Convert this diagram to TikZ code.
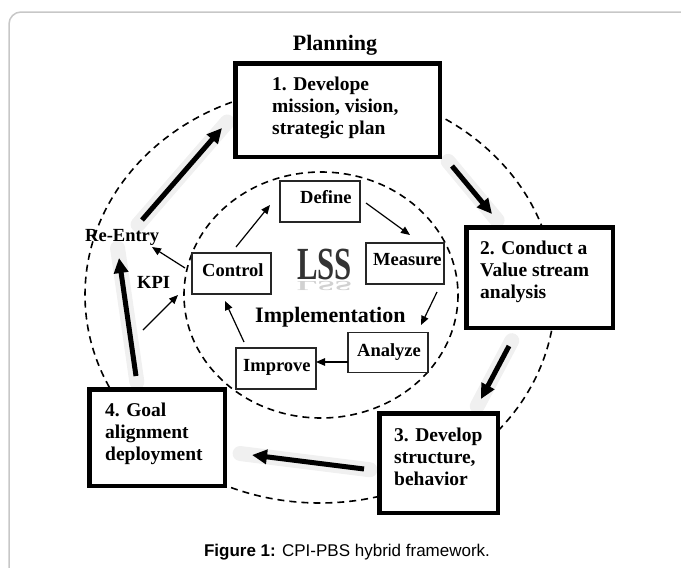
\documentclass[tikz,border=0pt]{standalone}
\usepackage{fontspec}
\setmainfont{Liberation Serif}
\newfontfamily\capfont{Liberation Sans}
\usetikzlibrary{arrows.meta,calc}
\tikzset{
  bigbox/.style={draw=black, line width=4.5pt, fill=white, inner sep=0pt},
  smallbox/.style={draw=black!85, line width=1.3pt, fill=white, inner sep=0pt},
  bigtxt/.style={font=\bfseries\fontsize{19.5}{22}\selectfont, align=left, inner sep=0pt, anchor=north west},
  smalltxt/.style={font=\bfseries\fontsize{18.5}{22}\selectfont, inner sep=0pt, anchor=base west},
  thinarrow/.style={line width=1.2pt, -{Triangle[length=9pt,width=7.5pt]}},
  bigarrow/.style={line width=5pt, -{Triangle[length=15pt,width=14pt]}},
  glow/.style={line width=15pt, draw=black!6, line cap=round},
  dashring/.style={line width=1.6pt, dash pattern=on 7pt off 5pt},
}
\begin{document}
\begin{tikzpicture}[x=1pt,y=-1pt]
\useasboundingbox (0,0) rectangle (681,568);
% frame
\draw[draw=black!22, line width=1.5pt, rounded corners=12pt] (9,575) -- (9,12) -- (690,12);
% rings
\draw[dashring] (320,295) ellipse [x radius=235, y radius=208];
\draw[dashring] (321,295) ellipse [x radius=137, y radius=123];
% arrow end points
\coordinate (a1s) at (142,220); \coordinate (a1e) at (222,128);
\coordinate (a2s) at (452,166); \coordinate (a2e) at (492,214);
\coordinate (a3s) at (509,346); \coordinate (a3e) at (481,399);
\coordinate (a4s) at (364,469); \coordinate (a4e) at (252,455);
\coordinate (a5s) at (136,376); \coordinate (a5e) at (119,258);
% glows
\draw[glow] ($(a1s)!-6pt!(a1e)$) -- ($(a1e)!-8pt!(a1s)$);
\draw[glow] ($(a2s)!-6pt!(a2e)$) -- ($(a2e)!-8pt!(a2s)$);
\draw[glow] ($(a3s)!-6pt!(a3e)$) -- ($(a3e)!-8pt!(a3s)$);
\draw[glow] ($(a4s)!-6pt!(a4e)$) -- ($(a4e)!-12pt!(a4s)$);
\draw[glow] ($(a5s)!-6pt!(a5e)$) -- ($(a5e)!-10pt!(a5s)$);
% big boxes
\node[bigbox, minimum width=204.5pt, minimum height=93.5pt] (b1) at (337.5,110) {};
\node[bigbox, minimum width=146.5pt, minimum height=100.5pt] (b2) at (539.5,277.5) {};
\node[bigbox, minimum width=118.5pt, minimum height=99.5pt] (b3) at (438.5,463) {};
\node[bigbox, minimum width=135.5pt, minimum height=96.5pt] (b4) at (157,437.5) {};
\node[bigtxt] (t1) at (272,76.7) {1. Develope\\mission, vision,\\strategic plan};
\node[bigtxt] (t2) at (480,240.7) {2. Conduct a\\Value stream\\analysis};
\node[bigtxt] (t3) at (394,427.5) {3. Develop\\structure,\\behavior};
\node[bigtxt] (t4) at (105,403) {4. Goal\\alignment\\deployment};
% small boxes
\node[smallbox, minimum width=80pt, minimum height=41pt] (def) at (320,201.5) {};
\node[smallbox, minimum width=78pt, minimum height=41pt] (mea) at (405,263.5) {};
\node[smallbox, minimum width=79pt, minimum height=41pt] (con) at (231.5,273.5) {};
\node[smallbox, minimum width=80pt, minimum height=40pt] (ana) at (388,352.5) {};
\node[smallbox, minimum width=80pt, minimum height=41pt] (imp) at (276,368.5) {};
\node[smalltxt] (tdef) at (300,203) {Define};
\node[smalltxt] (tmea) at (373,265) {Measure};
\node[smalltxt] (tcon) at (202,276) {Control};
\node[smalltxt] (tana) at (357,356) {Analyze};
\node[smalltxt] (timp) at (243,371) {Improve};
% labels
\node[font=\bfseries\fontsize{22}{24}\selectfont, anchor=base, inner sep=0pt] (plan) at (335,50) {Planning};
\node[font=\bfseries\fontsize{22}{24}\selectfont, anchor=base west, inner sep=0pt] (impl) at (255,322) {Implementation};
\node[smalltxt] (re) at (85,241) {Re-Entry};
\node[smalltxt] (kpi) at (137,288) {KPI};
% LSS logo
\node[font=\bfseries\fontsize{46}{46}\selectfont, text=black!18, xscale=0.67, yscale=-0.3, anchor=base west, inner sep=0pt] (lssr) at (297,281) {LSS};
\node[font=\bfseries\fontsize{46}{46}\selectfont, text=black!80, xscale=0.67, anchor=base west, inner sep=0pt] (lss) at (297,279) {LSS};
% big arrows
\draw[bigarrow] (a1s) -- (a1e);
\draw[bigarrow] (a2s) -- (a2e);
\draw[bigarrow] (a3s) -- (a3e);
\draw[bigarrow] (a4s) -- (a4e);
\draw[bigarrow] (a5s) -- (a5e);
% thin arrows
\coordinate (c1) at (366,203); \coordinate (c2) at (410,235);
\coordinate (c3) at (437,292); \coordinate (c4) at (421,325);
\coordinate (c5) at (348,362); \coordinate (c6) at (316,362);
\coordinate (c7) at (244,342); \coordinate (c8) at (225,301);
\coordinate (c9) at (236,247); \coordinate (c10) at (270,205);
\coordinate (c11) at (185,268); \coordinate (c12) at (152,247);
\coordinate (c13) at (143,330); \coordinate (c14) at (178,295);
\draw[thinarrow] (c1) -- (c2);
\draw[thinarrow] (c3) -- (c4);
\draw[thinarrow] (c5) -- (c6);
\draw[thinarrow] (c7) -- (c8);
\draw[thinarrow] (c9) -- (c10);
\draw[thinarrow] (c11) -- (c12);
\draw[thinarrow] (c13) -- (c14);
% caption
\node[font=\capfont\fontsize{17}{20}\selectfont, anchor=base, inner sep=0pt] (cap) at (347,556) {\textbf{Figure 1:} CPI-PBS hybrid framework.};
\end{tikzpicture}
\end{document}
